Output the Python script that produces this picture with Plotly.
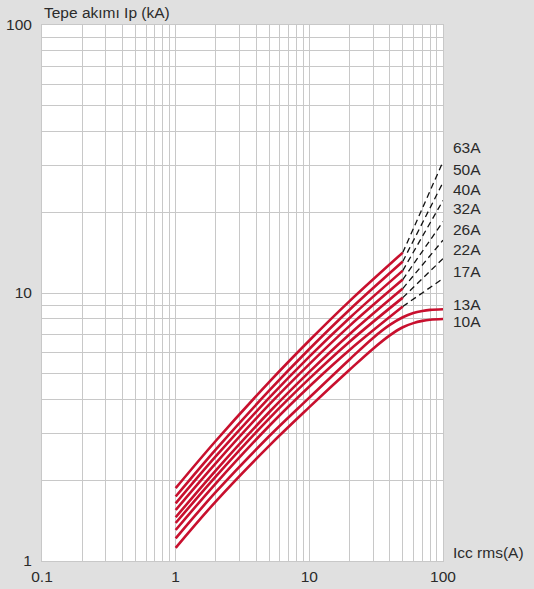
import math
import plotly.graph_objects as go

# ---------------- data ----------------
ratings = ["10A", "13A", "17A", "22A", "26A", "32A", "40A", "50A", "63A"]

# 10A and 13A: solid curves up to 100 A (kA scale on both axes)
x_low = [1, 2, 5, 10, 20, 30, 40, 50, 60, 70, 80, 100]
ip_10A = [1.12, 1.67, 2.69, 3.75, 5.17, 6.2, 6.95, 7.45, 7.72, 7.87, 7.95, 8.0]
ip_13A = [1.215, 1.81, 2.92, 4.07, 5.65, 6.8, 7.6, 8.12, 8.42, 8.57, 8.65, 8.7]

# 17A..63A: solid part (1..50 kA)
x_solid = [1, 2, 5, 10, 20, 50]
ip_17A = [1.305, 1.95, 3.19, 4.48, 6.13, 8.90]
ip_22A = [1.386, 2.07, 3.40, 4.79, 6.58, 9.61]
ip_26A = [1.456, 2.18, 3.59, 5.08, 7.02, 10.39]
ip_32A = [1.55, 2.32, 3.83, 5.43, 7.54, 11.22]
ip_40A = [1.64, 2.46, 4.06, 5.79, 8.07, 12.12]
ip_50A = [1.74, 2.61, 4.32, 6.18, 8.66, 13.1]
ip_63A = [1.87, 2.81, 4.65, 6.65, 9.33, 14.15]

# dashed extension (50..100 kA): value reached at 100 kA
x_dash = [50, 100]
ip_end = {"17A": 11.33, "22A": 13.44, "26A": 15.75, "32A": 18.46,
          "40A": 22.14, "50A": 25.85, "63A": 30.9}

x_tick_vals = [0.1, 1, 10, 100]
x_tick_text = ["0.1", "1", "10", "100"]
y_tick_vals = [1, 10, 100]
y_tick_text = ["1", "10", "100"]

# ---------------- style ----------------
RED = "#c8102e"
GRID = "#c8c8c8"
TXT = "#2b2b2b"
FONT = "Liberation Sans, Arial, sans-serif"
FS = 15.5

fig = go.Figure()

solid = {"17A": ip_17A, "22A": ip_22A, "26A": ip_26A, "32A": ip_32A,
         "40A": ip_40A, "50A": ip_50A, "63A": ip_63A}

for name, ys in [("10A", ip_10A), ("13A", ip_13A)]:
    fig.add_trace(go.Scatter(x=x_low, y=ys, mode="lines", name=name,
                             line=dict(color=RED, width=2.6, shape="spline"),
                             hoverinfo="skip"))

for name, ys in solid.items():
    fig.add_trace(go.Scatter(x=x_solid, y=ys, mode="lines", name=name,
                             line=dict(color=RED, width=2.6, shape="spline"),
                             hoverinfo="skip"))
    fig.add_trace(go.Scatter(x=x_dash, y=[ys[-1], ip_end[name]], mode="lines",
                             line=dict(color="#111111", width=1.3, dash="6px,4px"),
                             hoverinfo="skip"))

# gridlines at every 1..9 x 10^k
def decade_vals(lo, hi):
    vals = []
    for k in range(lo, hi):
        for m in range(1, 10):
            vals.append(round(m * 10 ** k, 6))
    vals.append(10 ** hi)
    return vals

xgrid = decade_vals(-1, 2)
ygrid = decade_vals(0, 2)

fig.update_xaxes(type="log", range=[-1, 2], automargin=False,
                 tickvals=xgrid,
                 ticktext=[x_tick_text[x_tick_vals.index(v)] if v in x_tick_vals else "" for v in xgrid],
                 showgrid=True, gridcolor=GRID, gridwidth=1,
                 showline=True, mirror=True, linecolor=GRID, linewidth=1,
                 ticks="", ticklabelstandoff=1, zeroline=False,
                 tickfont=dict(family=FONT, size=FS, color=TXT))
fig.update_yaxes(type="log", range=[0, 2], automargin=False,
                 tickvals=ygrid,
                 ticktext=[y_tick_text[y_tick_vals.index(v)] if v in y_tick_vals else "" for v in ygrid],
                 showgrid=True, gridcolor=GRID, gridwidth=1,
                 showline=True, mirror=True, linecolor=GRID, linewidth=1,
                 ticks="", ticklabelstandoff=6, zeroline=False,
                 tickfont=dict(family=FONT, size=FS, color=TXT))

# curve label positions (y in kA)
label_pos = {"63A": 34.8, "50A": 28.8, "40A": 24.4, "32A": 20.6, "26A": 17.3,
             "22A": 14.5, "17A": 12.0, "13A": 9.03, "10A": 7.80}
for name in ratings:
    fig.add_annotation(text=name, xref="paper", x=1, xshift=8, xanchor="left",
                       yref="y", y=math.log10(label_pos[name]), yanchor="middle",
                       showarrow=False, font=dict(family=FONT, size=FS, color=TXT))

fig.add_annotation(text="Tepe akımı Ip (kA)", xref="paper", x=0, xanchor="left",
                   yref="paper", y=1, yshift=13, yanchor="middle", showarrow=False,
                   font=dict(family=FONT, size=FS, color=TXT))
fig.add_annotation(text="Icc rms(A)", xref="paper", x=1, xshift=8, xanchor="left",
                   yref="paper", y=0, yshift=9, yanchor="middle", showarrow=False,
                   font=dict(family=FONT, size=FS, color=TXT))

fig.update_layout(width=534, height=589, showlegend=False,
                  margin=dict(l=42, r=91, t=25, b=28, pad=0, autoexpand=False),
                  paper_bgcolor="#e0e0e0", plot_bgcolor="#ffffff")

fig.write_html("out.html", config={"displayModeBar": False},
               post_script="document.body.style.margin='0';")
